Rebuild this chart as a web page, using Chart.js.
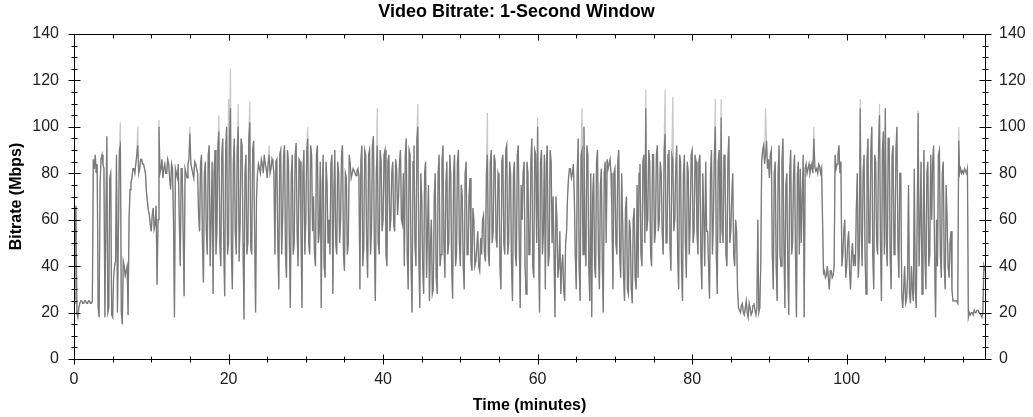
<!DOCTYPE html>
<html>
<head>
<meta charset="utf-8">
<script src="https://cdn.jsdelivr.net/npm/chart.js@4.4.1/dist/chart.umd.min.js"></script>
<style>
  html, body { margin: 0; padding: 0; background: #fff; }
  #wrap { width: 1033px; height: 417px; }
</style>
</head>
<body>
<div id="wrap"><canvas id="bitrateChart" width="1033" height="417"></canvas></div>
<script>
// one reading every 15 s (minutes), plus one in between
const sampleStep = 0.25;

// Video bitrate in Mbps on the quarter minute
const bitrate = [
  24, 66, 18, 24,  25, 24, 25, 24,  25, 24, 86, 88,  84, 18, 86, 84,  18, 96, 22, 80,   // 0-4
  18, 40, 88, 55,  92, 15, 40, 38,  19, 73, 78, 82,  84, 92, 82, 86,  84, 80, 68, 62,   // 5-9
  55, 65, 58, 32,  100, 82, 78, 84, 80, 84, 73, 82,  18, 80, 84, 40,  82, 27, 80, 84,   // 10-14
  97, 82, 78, 84,  80, 55, 88, 33,  85, 45, 92, 60,  28, 90, 55, 98,  40, 95, 27, 100,  // 15-19
  50, 108, 30, 95, 45, 100, 60, 92, 17, 88, 50, 102, 45, 94, 20, 80,  82, 86, 80, 84,   // 20-24
  78, 88, 82, 84,  45, 86, 30, 90,  60, 92, 35, 85,  22, 88, 50, 93,  40, 85, 22, 90,   // 25-29
  60, 95, 45, 88,  70, 40, 92, 55,  22, 88, 35, 75,  60, 84, 28, 90,  45, 80, 60, 92,   // 30-34
  38, 78, 50, 84,  80, 81, 79, 82,  30, 92, 48, 88,  35, 90, 55, 96,  25, 92, 45, 85,   // 35-39
  60, 90, 40, 88,  60, 85, 55, 82,  70, 90, 58, 40,  95, 30, 88, 20,  92, 40, 100, 22,  // 40-44
  70, 28, 85, 55,  25, 60, 30, 80,  28, 88, 45, 92,  35, 85, 50, 80,  26, 88, 45, 90,   // 45-49
  40, 70, 30, 85,  45, 78, 38, 60,  42, 55, 38, 45,  62, 42, 88, 40,  90, 55, 85, 48,   // 50-54
  78, 30, 88, 45,  92, 50, 80, 25,  85, 40, 92, 22,  60, 85, 28, 80,  45, 95, 35, 88,   // 55-59
  100, 20, 90, 55, 30, 92, 45, 85,  70, 18, 60, 40,  28, 45, 25, 55,  78, 82, 80, 70,   // 60-64
  30, 95, 25, 90,  100, 40, 88, 25, 18, 80, 35, 90,  30, 82, 20, 85,  86, 84, 80, 30,   // 65-69
  82, 45, 90, 35,  60, 25, 70, 28,  55, 24, 65, 30,  35, 84, 40, 88,  108, 60, 85, 40,  // 70-74
  88, 55, 92, 60,  80, 45, 97, 50,  90, 38, 86, 60,  92, 30, 85, 25,  88, 35, 80, 60,   // 75-79
  90, 55, 85, 45,  88, 30, 62, 85,  55, 26, 90, 60,  100, 28, 90, 104, 50, 85, 40, 96,  // 80-84
  55, 80, 40, 55,  22, 20, 24, 19,  25, 18, 22, 20,  24, 19, 60, 22,  85, 92, 88, 82,   // 85-89
  78, 90, 30, 85,  25, 92, 40, 95,  22, 80, 19, 90,  50, 88, 18, 85,  82, 70, 18, 84,   // 90-94
  82, 80, 84, 95,  81, 80, 83, 82,  37, 35, 40, 30,  38, 36, 88, 84,  92, 85, 45, 60,   // 95-99
  40, 55, 30, 50,  45, 65, 35, 108, 40, 88, 28, 95,  50, 100, 30, 85, 45, 105, 25, 98,  // 100-104
  108, 40, 95, 30, 92, 50, 100, 35, 80, 22, 40, 26,  75, 24, 30, 82,  22, 106, 60, 28,  // 105-109
  90, 30, 85, 45,  60, 92, 18, 40,  90, 35, 85, 30,  60, 35, 55, 25,  25, 25, 94, 82,   // 110-114
  81, 82, 80, 18,  19, 20, 21, 20,  21, 20, 18, 40                                      // 115-117
];

// readings 7.5 s after each of the above
const bitrateHalf = [
  60, 20, 22, 25,  24, 25, 24, 25,  24, 25, 82, 80,  22, 75, 88, 82,  60, 20, 78, 19,   // 0-4
  35, 42, 20, 90,  20, 42, 36, 40,  60, 76, 82, 80,  88, 80, 86, 84,  82, 72, 64, 58,   // 5-9
  62, 56, 66, 60,  80, 86, 82, 80,  86, 78, 84, 60,  82, 78, 60, 82,  55, 82, 78, 86,   // 10-14
  84, 80, 85, 82,  62, 84, 50, 80,  55, 88, 40, 85,  80, 45, 92, 50,  88, 50, 90, 45,   // 15-19
  95, 45, 85, 55,  90, 42, 95, 50,  80, 45, 95, 48,  90, 55, 70, 84,  80, 84, 88, 82,   // 20-24
  84, 80, 86, 80,  85, 50, 88, 45,  88, 45, 90, 50,  80, 45, 88, 55,  86, 55, 80, 45,   // 25-29
  90, 50, 92, 55,  45, 88, 50, 85,  75, 40, 85, 50,  45, 88, 70, 50,  85, 50, 88, 45,   // 30-34
  80, 45, 88, 78,  82, 80, 81, 79,  85, 40, 90, 50,  88, 45, 92, 50,  80, 50, 90, 55,   // 35-39
  88, 45, 85, 55,  80, 58, 86, 62,  85, 60, 80, 88,  45, 90, 40, 85,  50, 95, 45, 80,   // 40-44
  40, 80, 35, 75,  50, 28, 70, 35,  80, 40, 85, 50,  75, 45, 88, 40,  80, 40, 85, 50,   // 45-49
  75, 40, 80, 45,  70, 42, 65, 40,  48, 40, 52, 60,  45, 80, 45, 85,  50, 88, 52, 80,   // 50-54
  40, 85, 50, 90,  45, 85, 40, 80,  45, 88, 50, 75,  80, 40, 85, 45,  85, 40, 90, 50,   // 55-59
  50, 85, 45, 88,  85, 40, 90, 50,  45, 70, 35, 55,  40, 30, 50, 70,  82, 78, 84, 45,   // 60-64
  80, 40, 88, 45,  50, 92, 40, 80,  70, 40, 85, 45,  75, 40, 80, 50,  82, 86, 60, 80,   // 65-69
  50, 85, 45, 80,  35, 65, 30, 60,  30, 60, 35, 75,  80, 45, 85, 50,  55, 90, 45, 88,   // 70-74
  50, 88, 55, 85,  55, 90, 50, 88,  50, 88, 55, 82,  45, 88, 40, 80,  50, 85, 45, 88,   // 75-79
  50, 88, 55, 85,  45, 80, 40, 55,  40, 80, 45, 88,  45, 85, 50, 55,  88, 45, 85, 50,   // 80-84
  70, 45, 60, 30,  21, 23, 20, 22,  20, 24, 19, 23,  21, 22, 20, 40,  90, 84, 94, 86,   // 85-89
  88, 45, 80, 40,  80, 45, 85, 50,  75, 40, 80, 45,  80, 45, 80, 45,  50, 88, 82, 80,   // 90-94
  84, 82, 80, 83,  82, 84, 80, 60,  38, 36, 35, 38,  35, 40, 82, 88,  80, 40, 55, 35,   // 95-99
  50, 38, 45, 40,  40, 80, 45, 55,  80, 45, 85, 50,  90, 45, 88, 50,  92, 50, 90, 45,   // 100-104
  50, 95, 45, 88,  45, 90, 50, 80,  28, 30, 24, 35,  28, 40, 25, 30,  60, 40, 85, 50,   // 105-109
  45, 80, 40, 88,  85, 45, 60, 88,  45, 80, 40, 75,  40, 50, 30, 25,  25, 24, 80, 80,   // 110-114
  80, 81, 82, 20,  20, 19, 20, 21,  20, 19, 20, 38                                      // 115-117
];

// light grey peaks that show above the dark trace: [minute, Mbps]
const peakMinutes = [6.0, 8.25, 11.0, 15.0, 18.75, 20.0, 20.25, 21.25, 22.75, 25.25, 30.25, 39.25, 44.5,
  53.5, 60.0, 65.75, 74.0, 76.5, 77.5, 83.0, 83.75, 89.5, 95.75, 101.75, 104.25, 109.25, 114.5];
const peakValues = [102, 100, 103, 100, 105, 112, 125, 110, 111, 92, 100, 108, 110,
  106, 104, 108, 116, 116, 113, 112, 112, 108, 100, 112, 110, 107, 100];

const xMax = 117.9;
const yMax = 140;

const darkPoints = [];
bitrate.forEach((v, i) => {
  darkPoints.push({ x: i * sampleStep, y: v });
  darkPoints.push({ x: (i + 0.5) * sampleStep, y: bitrateHalf[i] });
});
const lightPoints = darkPoints.map(p => ({ x: p.x, y: p.y }));
peakMinutes.forEach((m, k) => {
  const i = Math.round(m / sampleStep) * 2;
  lightPoints[i].y = peakValues[k];
});

const tickFont = { family: 'Liberation Sans, Arial, sans-serif', size: 16 };
const axisTitleFont = { family: 'Liberation Sans, Arial, sans-serif', size: 16, weight: 'bold' };
const titleFont = { family: 'Liberation Sans, Arial, sans-serif', size: 18, weight: 'bold' };

// axis frame with ticks crossing the axis lines
const frameTicks = {
  id: 'frameTicks',
  afterDraw(chart) {
    const { ctx, chartArea: a, scales } = chart;
    const L = Math.round(a.left) + 0.5, R = Math.round(a.right) + 0.5;
    const T = Math.round(a.top) + 0.5, B = Math.round(a.bottom) + 0.5;
    ctx.save();
    ctx.strokeStyle = '#000';
    ctx.lineWidth = 1;
    ctx.beginPath();
    ctx.rect(L, T, R - L, B - T);
    for (let v = 0; v <= xMax; v += 5) {
      const px = Math.round(scales.x.getPixelForValue(v)) + 0.5;
      const len = v % 20 === 0 ? 5 : 3;
      ctx.moveTo(px, B - len); ctx.lineTo(px, B + len);
      ctx.moveTo(px, T); ctx.lineTo(px, T + len + 1);
    }
    for (let v = 0; v <= yMax; v += 5) {
      const py = Math.round(scales.y.getPixelForValue(v)) + 0.5;
      const len = v % 20 === 0 ? 6 : 3;
      ctx.moveTo(L - len, py); ctx.lineTo(L + len, py);
      ctx.moveTo(R - len, py); ctx.lineTo(R + len, py);
    }
    ctx.stroke();
    ctx.restore();
  }
};

const ctx = document.getElementById('bitrateChart').getContext('2d');
new Chart(ctx, {
  type: 'line',
  data: {
    datasets: [
      { data: darkPoints, borderColor: '#7a7a7a', borderWidth: 1.25, pointRadius: 0, tension: 0, order: 1 },
      { data: lightPoints, borderColor: '#c9c9c9', borderWidth: 1.25, pointRadius: 0, tension: 0, order: 2 }
    ]
  },
  options: {
    responsive: false,
    animation: false,
    events: [],
    layout: { padding: 0 },
    plugins: {
      legend: { display: false },
      tooltip: { enabled: false },
      title: {
        display: true,
        text: 'Video Bitrate: 1-Second Window',
        color: '#000',
        font: titleFont,
        padding: { top: 1, bottom: 11.4 }
      }
    },
    scales: {
      x: {
        type: 'linear',
        min: 0,
        max: xMax,
        grid: { display: false, drawTicks: false },
        border: { display: false },
        ticks: { stepSize: 20, includeBounds: false, autoSkip: false, maxRotation: 0, padding: 11, color: '#222', font: tickFont },
        title: { display: true, text: 'Time (minutes)', color: '#000', font: axisTitleFont, padding: { top: 0, bottom: 2 } },
        afterFit(s) { s.height = 58; }
      },
      y: {
        position: 'left',
        min: 0,
        max: yMax,
        grid: { display: false, drawTicks: false },
        border: { display: false },
        ticks: { stepSize: 20, padding: 15, color: '#222', font: tickFont },
        title: { display: true, text: 'Bitrate (Mbps)', color: '#000', font: axisTitleFont, padding: { top: 7, bottom: 0 } },
        afterFit(s) { s.width = 74; }
      },
      y2: {
        position: 'right',
        min: 0,
        max: yMax,
        grid: { display: false, drawTicks: false },
        border: { display: false },
        ticks: { stepSize: 20, padding: 14, color: '#222', font: tickFont },
        afterFit(s) { s.width = 48; }
      }
    }
  },
  plugins: [frameTicks]
});
</script>
</body>
</html>
